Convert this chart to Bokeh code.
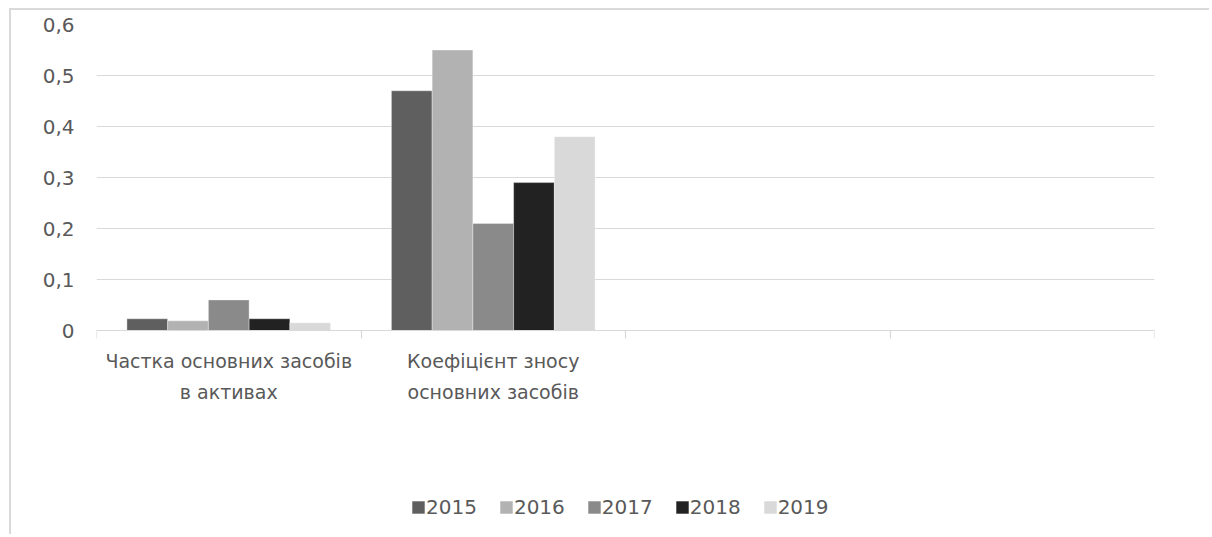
from bokeh.plotting import figure
from bokeh.models import ColumnDataSource, Range1d, FixedTicker, Legend, LegendItem
from bokeh.transform import dodge
from bokeh.embed import file_html
from bokeh.resources import INLINE

# ---- data ----
categories = ["Частка основних засобів\nв активах", "Коефіцієнт зносу\nосновних засобів", " ", "  "]
years = ["2015", "2016", "2017", "2018", "2019"]
v2015 = [0.023, 0.47]
v2016 = [0.019, 0.55]
v2017 = [0.060, 0.21]
v2018 = [0.023, 0.29]
v2019 = [0.015, 0.38]
colors = ["#5f5f5f", "#b2b2b2", "#8a8a8a", "#222222", "#d9d9d9"]
y_ticks = [0, 0.1, 0.2, 0.3, 0.4, 0.5, 0.6]
y_tick_labels = ["0", "0,1", "0,2", "0,3", "0,4", "0,5", "0,6"]

series = [v2015, v2016, v2017, v2018, v2019]
n_cat = len(categories)
centers = [i + 0.5 for i in range(n_cat)]
data = {"x": centers[:len(v2015)]}
for y, vals in zip(years, series):
    data[y] = vals
src = ColumnDataSource(data)

TEXT = "#595959"
GRID = "#d9d9d9"

# layout (canvas pixels)
W, H = 1200, 526
FRAME_TOP, FRAME_LEFT, FRAME_RIGHT = 14, 85, 1143
ZERO_PX = 320            # canvas y of the value axis zero line
y_max = y_ticks[-1]
px_per_unit = (ZERO_PX - FRAME_TOP) / y_max
y_min = -(H - ZERO_PX) / px_per_unit

p = figure(width=W, height=H,
           x_range=Range1d(0, n_cat), y_range=Range1d(y_min, y_max),
           output_backend="svg", toolbar_location=None,
           min_border_left=FRAME_LEFT, min_border_right=W - FRAME_RIGHT,
           min_border_top=FRAME_TOP, min_border_bottom=0)
p.styles = {"margin-left": "9px", "margin-top": "8px",
            "border-top": "2px solid #d9d9d9", "border-left": "2px solid #d9d9d9"}
p.outline_line_color = None
p.background_fill_color = "white"
p.border_fill_color = "white"

bar_w = 0.154
offsets = [(i - 2) * bar_w for i in range(len(years))]
items = []
for y, c, off in zip(years, colors, offsets):
    r = p.vbar(x=dodge("x", off), top=y, width=bar_w, bottom=0, source=src,
               fill_color=c, line_color="white", line_width=0.6, line_alpha=0.6)
    items.append(LegendItem(label=y, renderers=[r]))

# y axis
yt = FixedTicker(ticks=y_ticks)
ya = p.yaxis[0]
ya.ticker = yt
ya.major_label_overrides = dict(zip(y_ticks, y_tick_labels))
ya.axis_line_color = None
ya.major_tick_out = 0
ya.major_tick_in = 0
ya.minor_tick_line_color = None
ya.major_label_standoff = 22
ya.major_label_text_font = "DejaVu Sans"
ya.major_label_text_font_size = "20px"
ya.major_label_text_color = TEXT

p.ygrid.ticker = yt
p.ygrid.grid_line_color = GRID
p.ygrid.grid_line_width = 1.2
p.xgrid.visible = False

# x axis (drawn at value 0)
xa = p.xaxis[0]
xa.fixed_location = 0
xa.ticker = FixedTicker(ticks=centers, minor_ticks=list(range(n_cat + 1)))
xa.major_label_overrides = dict(zip(centers, categories))
xa.axis_line_color = GRID
xa.axis_line_width = 1.2
xa.major_tick_out = 0
xa.major_tick_in = 0
xa.minor_tick_out = 8
xa.minor_tick_in = 0
xa.minor_tick_line_color = GRID
xa.minor_tick_line_width = 1.2
xa.major_label_standoff = 11
xa.major_label_text_font = "DejaVu Sans"
xa.major_label_text_font_size = "19px"
xa.major_label_text_color = TEXT
xa.major_label_text_line_height = 1.44

legend = Legend(items=items, orientation="horizontal", location=(314, 17),
                glyph_width=16, glyph_height=16, label_standoff=0, spacing=21,
                padding=0, margin=0, border_line_color=None,
                background_fill_alpha=0,
                label_text_font="DejaVu Sans", label_text_font_size="20px",
                label_text_color=TEXT)
p.add_layout(legend)

open("out.html", "w").write(file_html(p, INLINE))
